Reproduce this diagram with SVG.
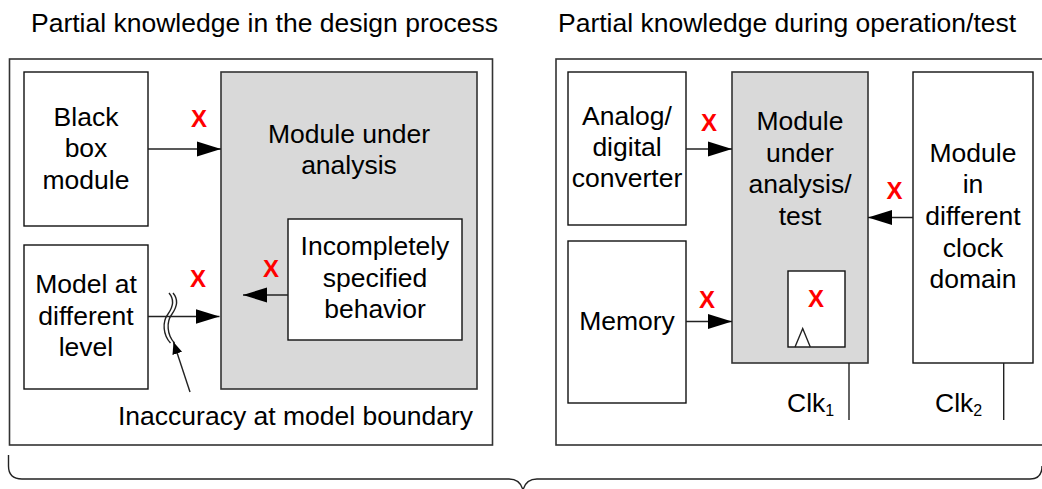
<svg xmlns="http://www.w3.org/2000/svg" width="1042" height="489" viewBox="0 0 1042 489">
<style>
text{font-family:"Liberation Sans",Arial,sans-serif;font-size:26.5px;fill:#000}
.c{text-anchor:middle}
.x{font-weight:bold;font-size:24px;fill:#ff0000;text-anchor:middle}
.frame{fill:#fff;stroke:#333;stroke-width:1.6}
.box{fill:#fff;stroke:#111;stroke-width:1.4}
.gray{fill:#d9d9d9;stroke:#333;stroke-width:1.6}
.ln{fill:none;stroke:#222;stroke-width:1.4}
</style>
<defs>
<marker id="ah" markerUnits="userSpaceOnUse" markerWidth="24" markerHeight="16" refX="24" refY="8" orient="auto">
<path d="M0,0.5 L24,8 L0,15.5 Z" fill="#000"/>
</marker>
<marker id="ahs" markerUnits="userSpaceOnUse" markerWidth="12" markerHeight="10" refX="12" refY="5" orient="auto">
<path d="M0,0 L12,5 L0,10 Z" fill="#000"/>
</marker>
</defs>
<rect width="1042" height="489" fill="#fff"/>
<text x="31" y="32">Partial knowledge in the design process</text>
<text x="558" y="32">Partial knowledge during operation/test</text>
<rect class="frame" x="9.5" y="59" width="483" height="386"/>
<rect class="frame" x="556" y="59" width="500" height="386"/>
<g id="black-box">
<rect class="box" x="24" y="72" width="124" height="154"/>
<text class="c" x="86" y="125.5">Black</text>
<text class="c" x="86" y="157">box</text>
<text class="c" x="86" y="188.5">module</text>
</g>
<g id="model-level">
<rect class="box" x="24" y="245" width="124" height="144"/>
<text class="c" x="86" y="293">Model at</text>
<text class="c" x="86" y="325">different</text>
<text class="c" x="86" y="356">level</text>
</g>
<g id="mua-left">
<rect class="gray" x="221" y="72" width="256" height="317"/>
<text class="c" x="349" y="142.5">Module under</text>
<text class="c" x="349" y="174">analysis</text>
</g>
<g id="incomplete">
<rect class="box" x="288" y="219" width="174" height="121"/>
<text class="c" x="375" y="255">Incompletely</text>
<text class="c" x="375" y="286.5">specified</text>
<text class="c" x="375" y="318">behavior</text>
</g>
<g id="adc">
<rect class="box" x="568" y="72" width="118" height="153"/>
<text class="c" x="627" y="125">Analog/</text>
<text class="c" x="627" y="156">digital</text>
<text class="c" x="627" y="187">converter</text>
</g>
<g id="memory">
<rect class="box" x="568" y="241" width="118" height="162"/>
<text class="c" x="627" y="330">Memory</text>
</g>
<g id="mua-right">
<rect class="gray" x="732" y="72" width="136" height="291"/>
<text class="c" x="800" y="130">Module</text>
<text class="c" x="800" y="161.5">under</text>
<text class="c" x="800" y="193">analysis/</text>
<text class="c" x="800" y="225">test</text>
</g>
<g id="flipflop">
<rect class="box" x="788" y="271" width="57" height="76"/>
<path class="ln" d="M795,347 L802.7,328.5 L810.3,347" stroke-width="1.2"/>
<text class="x" x="816" y="306.5">X</text>
</g>
<g id="clock-domain">
<rect class="box" x="913" y="72" width="120" height="291"/>
<text class="c" x="973" y="161.5">Module</text>
<text class="c" x="973" y="193">in</text>
<text class="c" x="973" y="225">different</text>
<text class="c" x="973" y="256.5">clock</text>
<text class="c" x="973" y="288">domain</text>
</g>
<g id="connectors">
<line class="ln" x1="148" y1="149" x2="221" y2="149" marker-end="url(#ah)"/>
<line class="ln" x1="148" y1="316.5" x2="219.5" y2="316.5" marker-end="url(#ah)"/>
<line class="ln" x1="288" y1="295" x2="243" y2="295" marker-end="url(#ah)"/>
<line class="ln" x1="686" y1="149" x2="732" y2="149" marker-end="url(#ah)"/>
<line class="ln" x1="686" y1="321.5" x2="732" y2="321.5" marker-end="url(#ah)"/>
<line class="ln" x1="913" y1="217.5" x2="868" y2="217.5" marker-end="url(#ah)"/>
<line class="ln" x1="849" y1="363" x2="849" y2="420" stroke="#444"/>
<line class="ln" x1="1003.7" y1="363" x2="1003.7" y2="420" stroke="#444"/>
<path class="ln" d="M169,293 C175,300 173,307 168,314 C162,322 163,335 170.5,343" stroke-width="1.1"/>
<path class="ln" d="M173,293 C179,300 177,307 172,314 C166,322 167,335 174.5,343" stroke-width="1.1"/>
<line class="ln" x1="190" y1="392" x2="173.5" y2="342" stroke-width="1.2" marker-end="url(#ahs)"/>
<path class="ln" d="M8.5,455 V466 Q8.5,479 22,479 H509 Q520,479 523,490 Q526,479 537,479 H1030 Q1042,479 1042,466" stroke-width="1.2"/>
</g>
<g id="labels">
<text class="x" x="199" y="126.5">X</text>
<text class="x" x="198" y="286.5">X</text>
<text class="x" x="271" y="276.5">X</text>
<text class="x" x="709" y="131">X</text>
<text class="x" x="707" y="307.5">X</text>
<text class="x" x="894.5" y="199">X</text>
<text x="118" y="425">Inaccuracy at model boundary</text>
<text x="787" y="412">Clk<tspan font-size="16" dy="4">1</tspan></text>
<text x="935" y="412">Clk<tspan font-size="16" dy="4">2</tspan></text>
</g>
</svg>
